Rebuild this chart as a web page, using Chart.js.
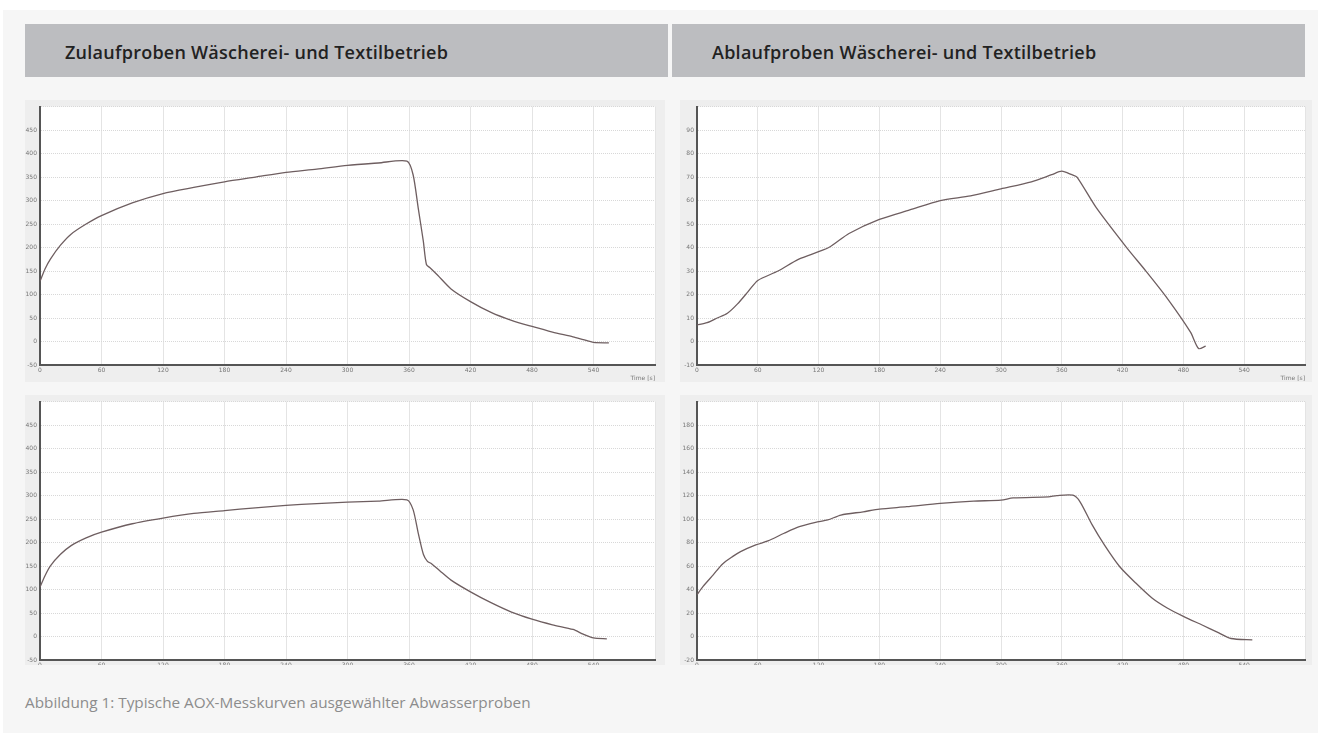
<!DOCTYPE html>
<html>
<head>
<meta charset="utf-8">
<script src="https://cdn.jsdelivr.net/npm/chart.js@4/dist/chart.umd.min.js"></script>
<style>
  body { margin: 0; background: #fff; width: 1318px; height: 733px; overflow: hidden; font-family: "Open Sans", sans-serif; }
  #panel { position: absolute; left: 3px; top: 10px; width: 1315px; height: 723px; background: #f6f6f6; }
  .head { position: absolute; top: 24px; height: 53px; background: #bcbdc0; color: #222;
          font-weight: 600; font-size: 18px; line-height: 56px; box-sizing: border-box; padding-left: 40px; letter-spacing: 0.25px; }
  .box { position: absolute; background: #eeeeee; overflow: hidden; }
  .box div { position: absolute; left: 0; top: 0; }
  #caption { position: absolute; left: 25px; top: 692px; font-size: 15.3px; color: #8c8c8c; }
</style>
</head>
<body>
<div id="panel"></div>
<div class="head" style="left:25px;width:643px;">Zulaufproben Wäscherei- und Textilbetrieb</div>
<div class="head" style="left:672px;width:633px;">Ablaufproben Wäscherei- und Textilbetrieb</div>
<div class="box" style="left:25px;top:100px;width:640px;height:282px;"><div style="width:640px;height:282px;"><canvas id="c1"></canvas></div></div>
<div class="box" style="left:680px;top:100px;width:632px;height:282px;"><div style="width:632px;height:282px;"><canvas id="c2"></canvas></div></div>
<div class="box" style="left:25px;top:395px;width:640px;height:270px;"><div style="width:640px;height:282px;"><canvas id="c3"></canvas></div></div>
<div class="box" style="left:680px;top:395px;width:632px;height:270px;"><div style="width:632px;height:282px;"><canvas id="c4"></canvas></div></div>
<div id="caption">Abbildung 1: Typische AOX-Messkurven ausgewählter Abwasserproben</div>

<script>
// Zulauf, Probe 1 (oben links)
const zu1Time = [0, 5, 10, 20, 30, 45, 60, 90, 120, 150, 180, 210, 240, 270, 300, 330, 358, 364, 369, 374, 377, 381, 388, 401, 420, 440, 460, 480, 500, 520, 530, 540, 555];
const zu1Aox  = [128, 155, 175, 205, 228, 250, 268, 295, 315, 328, 340, 350, 360, 367, 375, 380, 384, 355, 284, 213, 164, 156, 141, 112, 85, 62, 45, 32, 20, 10, 4, -2, -3];

// Ablauf, Probe 1 (oben rechts)
const ab1Time = [0, 10, 20, 30, 40, 50, 60, 80, 100, 130, 150, 180, 210, 240, 270, 300, 330, 350, 360, 370, 375, 394, 424, 443, 463, 487, 495, 502];
const ab1Aox  = [7, 8, 10, 12, 16, 21, 26, 30, 35, 40, 46, 52, 56, 60, 62, 65, 68, 71, 72.5, 71, 70, 57, 40, 30, 19, 4, -3, -2];

// Zulauf, Probe 2 (unten links)
const zu2Time = [0, 5, 10, 20, 30, 45, 60, 90, 120, 150, 180, 210, 240, 270, 300, 330, 358, 364, 369, 374, 378, 382, 390, 401, 420, 440, 460, 480, 500, 520, 530, 540, 553];
const zu2Aox  = [105, 130, 150, 175, 193, 210, 222, 240, 252, 262, 268, 274, 279, 283, 286, 288, 291, 270, 220, 175, 160, 155, 140, 120, 95, 72, 52, 37, 25, 15, 5, -3, -5];

// Ablauf, Probe 2 (unten rechts)
const ab2Time = [0, 6, 16, 25, 35, 43, 58, 70, 86, 101, 117, 129, 142, 164, 180, 207, 240, 273, 300, 312, 347, 355, 371, 378, 390, 402, 417, 433, 449, 464, 480, 499, 515, 527, 548];
const ab2Aox  = [35.6, 42.7, 52.5, 61.6, 68, 72.3, 78, 81.4, 87.9, 93.5, 97.2, 99.2, 103.4, 106.2, 108.5, 110.5, 113.3, 115.3, 116.1, 118, 118.9, 120, 120.3, 114.7, 95, 78, 59.6, 45.5, 32.8, 24.3, 17.2, 9.6, 3.1, -1.7, -2.8];

const plotBg = {
    id: "plotBg",
    beforeDraw(chart) {
        const a = chart.chartArea;
        chart.ctx.save();
        chart.ctx.fillStyle = "#ffffff";
        chart.ctx.fillRect(a.left, a.top, a.right - a.left, a.bottom - a.top);
        chart.ctx.restore();
    }
};

function drawCurve(canvasId, times, values, yMin, yMax, yStep, yWidth, pad) {
    const points = times.map((t, i) => ({ x: t, y: values[i] }));
    const tickFont = { size: 6, family: "DejaVu Sans" };

    new Chart(document.getElementById(canvasId), {
        type: "line",
        data: {
            datasets: [{
                data: points,
                borderColor: "#6e5e60",
                borderWidth: 1.3,
                pointRadius: 0,
                tension: 0.25
            }]
        },
        options: {
            responsive: true,
            maintainAspectRatio: false,
            animation: false,
            layout: { padding: pad },
            plugins: { legend: { display: false }, tooltip: { enabled: false } },
            scales: {
                x: {
                    type: "linear",
                    min: 0,
                    max: 600,
                    ticks: {
                        stepSize: 60,
                        color: "#777",
                        font: tickFont,
                        padding: 2,
                        maxRotation: 0,
                        callback: v => (v >= 600 ? "" : v)
                    },
                    grid: { color: "#e4e4e4", drawTicks: false },
                    border: { color: "#555", width: 2 },
                    title: { display: true, text: "Time [s]", align: "end", color: "#777", font: tickFont, padding: 0 },
                    afterFit: s => { s.height = 17; }
                },
                y: {
                    min: yMin,
                    max: yMax,
                    ticks: {
                        stepSize: yStep,
                        color: "#777",
                        font: tickFont,
                        padding: 3,
                        callback: v => (v >= yMax ? "" : v)
                    },
                    grid: { color: "#d8d8d8", drawTicks: false },
                    border: { color: "#555", width: 2, dash: [1, 1] },
                    afterFit: s => { s.width = yWidth; }
                }
            }
        },
        plugins: [plotBg]
    });
}

drawCurve("c1", zu1Time, zu1Aox, -50, 500, 50, 15, { top: 5, right: 10 });
drawCurve("c2", ab1Time, ab1Aox, -10, 100, 10, 17, { top: 5, right: 7 });
drawCurve("c3", zu2Time, zu2Aox, -50, 500, 50, 15, { top: 5, right: 10 });
drawCurve("c4", ab2Time, ab2Aox, -20, 200, 20, 17, { top: 5, right: 7 });
</script>
</body>
</html>
